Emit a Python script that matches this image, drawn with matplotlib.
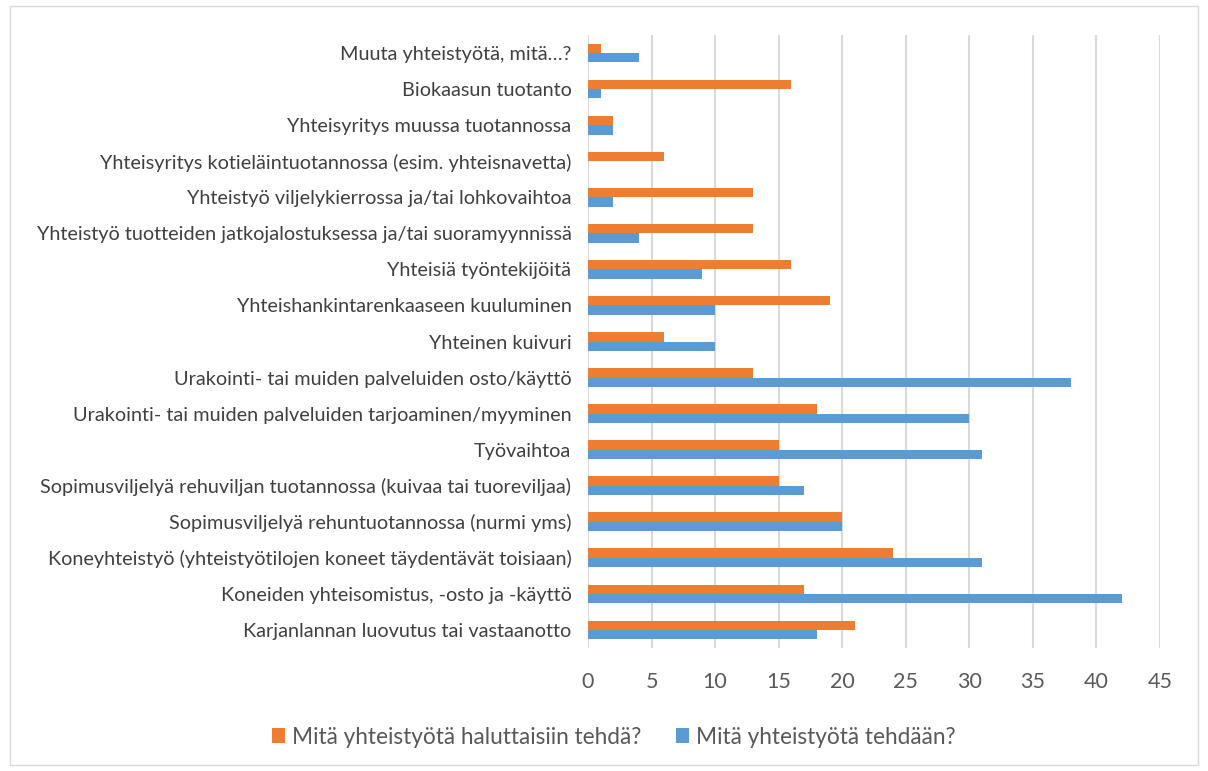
import numpy as np
import matplotlib
matplotlib.use("Agg")
from matplotlib import pyplot as plt
from matplotlib.patches import Rectangle

plt.rcParams['font.family'] = ['Lato', 'DejaVu Sans']

# bottom to top, as in the chart
categories = [
    "Karjanlannan luovutus tai vastaanotto",
    "Koneiden yhteisomistus, -osto ja -käyttö",
    "Koneyhteistyö (yhteistyötilojen koneet täydentävät toisiaan)",
    "Sopimusviljelyä rehuntuotannossa (nurmi yms)",
    "Sopimusviljelyä rehuviljan tuotannossa (kuivaa tai tuoreviljaa)",
    "Työvaihtoa",
    "Urakointi- tai muiden palveluiden tarjoaminen/myyminen",
    "Urakointi- tai muiden palveluiden osto/käyttö",
    "Yhteinen kuivuri",
    "Yhteishankintarenkaaseen kuuluminen",
    "Yhteisiä työntekijöitä",
    "Yhteistyö tuotteiden jatkojalostuksessa ja/tai suoramyynnissä",
    "Yhteistyö viljelykierrossa ja/tai lohkovaihtoa",
    "Yhteisyritys kotieläintuotannossa (esim. yhteisnavetta)",
    "Yhteisyritys muussa tuotannossa",
    "Biokaasun tuotanto",
    "Muuta yhteistyötä, mitä…?",
]
haluttaisiin = [21, 17, 24, 20, 15, 15, 18, 13, 6, 19, 16, 13, 13, 6, 2, 16, 1]
tehdaan = [18, 42, 31, 20, 17, 31, 30, 38, 10, 10, 9, 4, 2, 0, 2, 1, 4]

label_orange = "Mitä yhteistyötä haluttaisiin tehdä?"
label_blue = "Mitä yhteistyötä tehdään?"

orange = "#ED7D31"
blue = "#5B9BD5"
txt = "#404040"

fig = plt.figure(figsize=(12.08, 7.71), dpi=100)
ax = fig.add_axes([0.4868, 0.1595, 0.4735, 0.7951])

y = np.arange(len(categories))
h = 0.26
ax.barh(y + h/2, haluttaisiin, height=h, color=orange, label=label_orange, zorder=3)
ax.barh(y - h/2, tehdaan, height=h, color=blue, label=label_blue, zorder=3)

ax.set_xlim(0, 45)
ax.set_ylim(-0.5, len(categories) - 0.5)
ax.set_xticks(range(0, 46, 5))
ax.set_yticks(y)
ax.set_yticklabels(categories, fontsize=14.3, color=txt)
ax.tick_params(axis='x', labelsize=15.5, colors="#595959", length=0, pad=17)
ax.tick_params(axis='y', length=0, pad=12)
ax.grid(axis='x', color="#D9D9D9", linewidth=1.5, zorder=0)
for s in ax.spines.values():
    s.set_visible(False)

leg = fig.legend(loc='center', bbox_to_anchor=(0.508, 0.044), ncol=2, frameon=False,
                 fontsize=16.3, handlelength=0.6, handleheight=0.6, handletextpad=0.3,
                 columnspacing=1.5)
for t in leg.get_texts():
    t.set_color("#595959")

fig.patches.append(Rectangle((0.008, 0.008), 0.984, 0.984, transform=fig.transFigure,
                             fill=False, edgecolor="#D9D9D9", linewidth=1))

fig.savefig("out.png", dpi=100)
